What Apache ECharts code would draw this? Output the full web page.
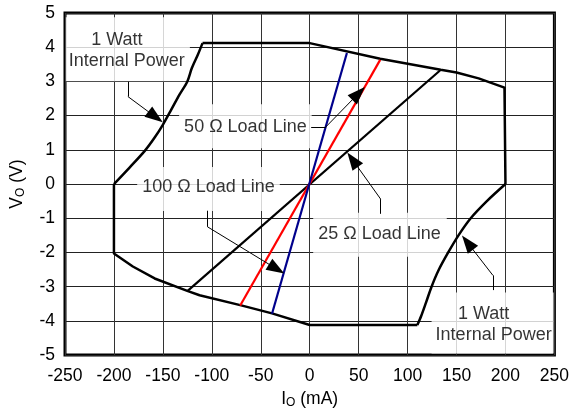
<!DOCTYPE html>
<html>
<head>
<meta charset="utf-8">
<script src="https://cdn.jsdelivr.net/npm/echarts@6/dist/echarts.min.js"></script>
<style>
html,body{margin:0;padding:0;background:#fff;}
#chart{width:572px;height:414px;}
</style>
</head>
<body>
<div id="chart"></div>
<script>
// ---- data ----
const xTickMin = -250, xTickMax = 250, xTickStep = 50;
const yTickMin = -5, yTickMax = 5, yTickStep = 1;

// 1 W power curves (I in mA, V in V)
const leftCurveI = [-200, -183.8, -168.5, -158.4, -149.9, -141.3, -132.9, -125, -120.4, -114.3, -109.5];
const leftCurveV = [0, 0.49, 0.97, 1.36, 1.74, 2.18, 2.62, 3.0, 3.39, 3.78, 4.12];
const rightCurveI = [200, 181, 164.5, 152, 141.5, 132, 124.5, 119, 114, 110];
const rightCurveV = [0, -0.5, -1, -1.5, -2, -2.5, -3, -3.45, -3.85, -4.12];
// straight parts of the boundary
const topEdgeI = [-109.5, 0, 72, 133.9, 150, 172.6, 199, 200];
const topEdgeV = [4.12, 4.12, 3.66, 3.34, 3.26, 3.09, 2.82, 0];
const bottomEdgeI = [110, 0, -38.5, -71, -112.5, -124.4, -158.4, -180.7, -200, -200];
const bottomEdgeV = [-4.12, -4.12, -3.78, -3.54, -3.25, -3.13, -2.76, -2.41, -2.03, 0];

// load lines
const load25I = [-125, 134];   const load25V = [-3.13, 3.34];
const load50I = [-71, 72];     const load50V = [-3.55, 3.63];
const load100I = [-38.5, 38];  const load100V = [-3.79, 3.83];

// annotation labels
const noteTexts = ['{a|1 Watt}\nInternal Power', '50 Ω Load Line', '100 Ω Load Line', '25 Ω Load Line', '{a|1 Watt}\nInternal Power'];
const noteI = [-185.8, -65.7, -103.4, 71.8, 186.9];
const noteV = [3.94, 1.69, -0.145, -1.48, -4.06];

// leader lines: plain segments and arrow segments
const leaderPlain = [
  [[-185.8, 2.99], [-185.8, 2.56]],
  [[1.5, 1.67], [16.5, 1.67]],
  [[-104.4, -0.78], [-104.4, -1.25]],
  [[72.5, -0.87], [72.5, -0.44]],
  [[187.2, -3.10], [187.2, -2.67]]
];
const leaderArrow = [
  [[-185.8, 2.56], [-157.5, 1.96]],
  [[16.5, 1.67], [49.9, 2.65]],
  [[-104.4, -1.25], [-33.8, -2.48]],
  [[72.5, -0.44], [43.8, 0.71]],
  [[187.2, -2.67], [161.2, -1.71]]
];

// ---- chart ----
const chart = echarts.init(document.getElementById('chart'), null, {renderer: 'canvas'});
const FONT = 'Liberation Sans, Arial, sans-serif';
const zip = (a, b) => a.map((v, i) => [v, b[i]]);

const paddings = [[12, 5, 10, 3], [12, 5, 11, 5], [10, 5, 13, 5], [11, 6, 12, 5], [11, 2, 8, 4]];
const boundaryStyle = {color: '#000', width: 2.5};

const option = {
  animation: false,
  backgroundColor: '#fff',
  grid: {left: 65, right: 16, top: 13, bottom: 57, show: true, borderColor: '#000', borderWidth: 3, backgroundColor: 'transparent'},
  xAxis: {
    type: 'value', min: xTickMin, max: xTickMax, interval: xTickStep,
    axisLine: {show: false}, axisTick: {show: false},
    splitLine: {show: true, lineStyle: {color: '#333', width: 1}},
    axisLabel: {color: '#000', fontSize: 17.5, fontFamily: FONT, margin: 12},
    name: 'I{sub|O} (mA)', nameLocation: 'middle', nameGap: 31,
    nameTextStyle: {color: '#000', fontSize: 17.5, fontFamily: FONT,
      rich: {sub: {fontSize: 12, fontFamily: FONT, color: '#000', verticalAlign: 'bottom', padding: [8, 0, 0, 0]}}}
  },
  yAxis: {
    type: 'value', min: yTickMin, max: yTickMax, interval: yTickStep,
    axisLine: {show: false}, axisTick: {show: false},
    splitLine: {show: true, lineStyle: {color: '#222', width: 1}},
    axisLabel: {color: '#000', fontSize: 17.5, fontFamily: FONT, margin: 10},
    name: 'V{sub|O} (V)', nameLocation: 'middle', nameGap: 38, nameRotate: 90,
    nameTextStyle: {color: '#000', fontSize: 17.5, fontFamily: FONT,
      rich: {sub: {fontSize: 12, fontFamily: FONT, color: '#000', verticalAlign: 'bottom', padding: [8, 0, 0, 0]}}}
  },
  series: [
    {
      type: 'scatter', z: 1, symbolSize: 1, itemStyle: {color: 'rgba(0,0,0,0)'},
      silent: true,
      data: noteTexts.map((t, i) => ({
        value: [noteI[i], noteV[i]],
        label: {
          show: true, position: 'inside', formatter: t,
          color: '#000', fontSize: 18, fontFamily: FONT, lineHeight: 21,
          backgroundColor: '#fff', padding: paddings[i], align: 'center',
          rich: {a: {fontSize: 18, fontFamily: FONT, color: '#000', lineHeight: 21, padding: [0, 20, 0, 0]}}
        }
      }))
    },
    {type: 'line', z: 3, data: zip(leftCurveI, leftCurveV), symbol: 'none', smooth: 0.3, lineStyle: boundaryStyle},
    {type: 'line', z: 3, data: zip(rightCurveI, rightCurveV), symbol: 'none', smooth: 0.3, lineStyle: boundaryStyle},
    {type: 'line', z: 3, data: zip(topEdgeI, topEdgeV), symbol: 'none', lineStyle: boundaryStyle},
    {type: 'line', z: 3, data: zip(bottomEdgeI, bottomEdgeV), symbol: 'none', lineStyle: boundaryStyle},
    {type: 'line', z: 3, data: zip(load25I, load25V), symbol: 'none', lineStyle: {color: '#000', width: 2.2}},
    {type: 'line', z: 4, data: zip(load50I, load50V), symbol: 'none', lineStyle: {color: '#ff0000', width: 2.2}},
    {type: 'line', z: 5, data: zip(load100I, load100V), symbol: 'none', lineStyle: {color: '#00008c', width: 2.2}},
    {
      type: 'lines', coordinateSystem: 'cartesian2d', z: 6, silent: true,
      symbol: 'none',
      lineStyle: {color: '#000', width: 1, opacity: 1},
      data: leaderPlain.map(c => ({coords: c}))
    },
    {
      type: 'lines', coordinateSystem: 'cartesian2d', z: 6, silent: true,
      symbol: ['none', 'triangle'],
      symbolSize: [1, [13, 18]],
      itemStyle: {color: '#000'},
      lineStyle: {color: '#000', width: 1, opacity: 1},
      data: leaderArrow.map(c => ({coords: c}))
    }
  ]
};
chart.setOption(option);
</script>
</body>
</html>
